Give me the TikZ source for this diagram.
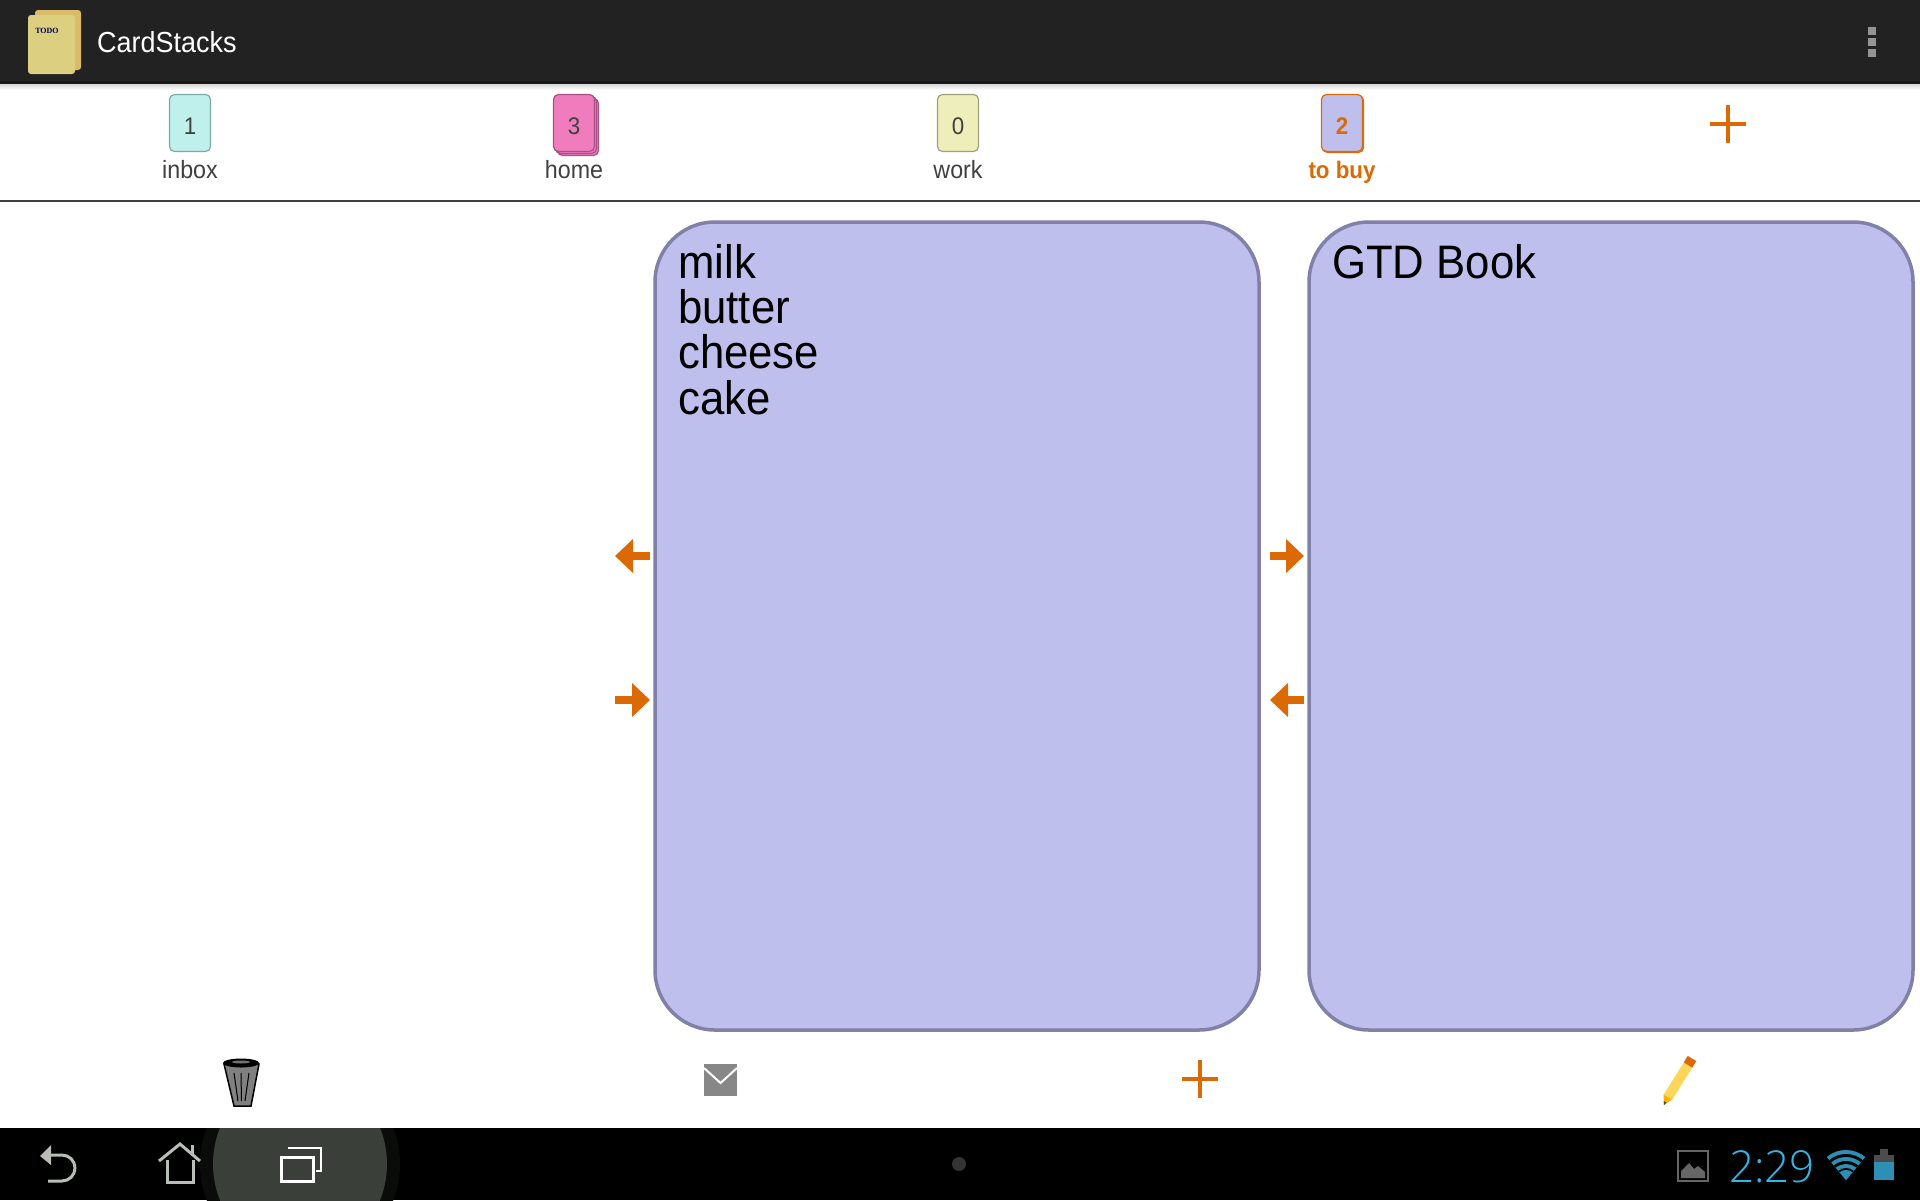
\documentclass[tikz,border=0pt]{standalone}
\usepackage{fontspec}
\setmainfont[FakeStretch=0.93]{Liberation Sans}
\newfontfamily\clockfont{Open Sans Light}
\newfontfamily\todofont{Liberation Serif}
\usetikzlibrary{positioning,arrows.meta}
\definecolor{barbg}{HTML}{222222}
\definecolor{accent}{HTML}{DB6A05}
\definecolor{notefill}{HTML}{BFBFEE}
\definecolor{noteline}{HTML}{8080A8}
\definecolor{navgrey}{HTML}{B8BDB8}
\definecolor{statusblue}{HTML}{33B5E5}
\definecolor{iconblue}{HTML}{2E8FB5}
\definecolor{tanfront}{HTML}{DCD080}
\definecolor{tanback}{HTML}{DABC68}
\definecolor{haloinner}{HTML}{3A3F3A}
\definecolor{haloouter}{HTML}{0A0C0A}
\definecolor{inboxfill}{HTML}{BFF0EC}
\definecolor{inboxline}{HTML}{7FA8A8}
\definecolor{homefill}{HTML}{F07CBE}
\definecolor{homeline}{HTML}{A85084}
\definecolor{workfill}{HTML}{EEEEBB}
\definecolor{workline}{HTML}{A0A080}
\definecolor{pencilbody}{HTML}{FFD65A}
\tikzset{
  tabcard/.style={draw, rounded corners=5pt, minimum width=41pt, minimum height=57pt,
    inner sep=0, line width=1.2pt, text=black!75, text height=22pt, text depth=0pt,
    font=\fontsize{24}{24}\selectfont},
  tablabel/.style={inner sep=0, text height=18pt, text depth=6pt, text=black!75,
    font=\fontsize{25}{25}\selectfont},
  notecard/.style={draw=noteline, fill=notefill, line width=3.5pt, rounded corners=60pt,
    minimum width=604pt, minimum height=808pt, inner sep=0},
  notetext/.style={inner sep=0, align=left, text=black, font=\fontsize{47}{45.3}\selectfont},
  movearrow/.style={draw=accent, line width=8pt, -{Triangle[length=18pt,width=33pt]}},
  plusline/.style={draw=accent, line width=4pt},
  navline/.style={draw=navgrey, line width=3pt},
  menudot/.style={fill=black!42, inner sep=0, minimum width=8pt, minimum height=8pt}
}
\begin{document}
\begin{tikzpicture}[x=1pt, y=-1pt]
  \useasboundingbox (0,0) rectangle (1920,1200);
  \fill[white] (0,0) rectangle (1920,1200);

  \fill[barbg] (0,0) rectangle (1920,81);
  \fill[black!90] (0,81) rectangle (1920,84);
  \shade[top color=black!15, bottom color=white] (0,84) rectangle (1920,90);
  \fill[black!75] (0,199.5) rectangle (1920,201.5);

  \node (appBack) [fill=tanback, rounded corners=3pt, minimum width=46pt, minimum height=60pt,
    inner sep=0] at (58,40) {};
  \node (appFront) [fill=tanfront, rounded corners=3pt, minimum width=47pt, minimum height=59pt,
    inner sep=0] at (51.5,44.5) {};
  \node (appTodo) [inner sep=0, text=black!70!blue, font=\todofont\fontsize{8}{8}\bfseries\selectfont]
    at (47,31) {TODO};
  \node (appTitle) [anchor=base west, inner sep=0, text=white, font=\fontsize{29}{29}\selectfont]
    at (97,52) {CardStacks};
  \node (menuA) [menudot] at (1872,31) {};
  \node (menuB) [menudot] at (1872,42) {};
  \node (menuC) [menudot] at (1872,53) {};

  \node (tabInbox) [tabcard, fill=inboxfill, draw=inboxline] at (190,123) {1};
  \node (lblInbox) [tablabel, below=8pt of tabInbox] {inbox};

  \node (tabHomeC) [tabcard, fill=homefill, draw=homeline] at (578,127) {};
  \node (tabHomeB) [tabcard, fill=homefill, draw=homeline] at (576,125) {};
  \node (tabHome) [tabcard, fill=homefill, draw=homeline] at (574,123) {3};
  \node (lblHome) [tablabel, below=8pt of tabHome] {home};

  \node (tabWork) [tabcard, fill=workfill, draw=workline] at (958,123) {0};
  \node (lblWork) [tablabel, below=8pt of tabWork] {work};

  \node (tabBuyB) [tabcard, fill=notefill, draw=accent] at (1343,124) {};
  \node (tabBuy) [tabcard, fill=notefill, draw=accent, text=accent] at (1342,123) {\bfseries 2};
  \node (lblBuy) [tablabel, below=8pt of tabBuy, text=accent,
    font=\fontsize{24}{24}\selectfont] {\bfseries to buy};

  \coordinate (plusTab) at (1728,124);
  \draw[plusline] ([xshift=-18pt]plusTab) -- ([xshift=18pt]plusTab);
  \draw[plusline] ([yshift=-19pt]plusTab) -- ([yshift=19pt]plusTab);

  \node (cardMilk) [notecard] at (957,626) {};
  \node (cardBook) [notecard] at (1611,626) {};
  \node (textMilk) [notetext, anchor=north west] at (678,244) {milk\\butter\\cheese\\cake};
  \node (textBook) [notetext, anchor=north west] at (1332,244) {GTD Book};

  \coordinate (milkLeftA) at (650,556);
  \coordinate (milkLeftB) at (615,556);
  \coordinate (milkRightA) at (615,700);
  \coordinate (milkRightB) at (650,700);
  \coordinate (bookRightA) at (1270,556);
  \coordinate (bookRightB) at (1304,556);
  \coordinate (bookLeftA) at (1304,700);
  \coordinate (bookLeftB) at (1270,700);
  \draw[movearrow] (milkLeftA) -- (milkLeftB);
  \draw[movearrow] (milkRightA) -- (milkRightB);
  \draw[movearrow] (bookRightA) -- (bookRightB);
  \draw[movearrow] (bookLeftA) -- (bookLeftB);

  % trash
  \draw[fill=black!50, line width=1.5pt] (224,1064) -- (259,1064) -- (251,1106) -- (234,1106) -- cycle;
  \foreach \a/\b in {234/238, 241/241.5, 249/245}
    \draw[line width=1pt] (\a,1073) -- (\b,1101);
  \fill[black] (241,1063) ellipse (18pt and 4.5pt);
  \fill[black!55] (241,1062) ellipse (9pt and 1.5pt);

  % mail
  \fill[black!47] (704,1064) rectangle (737,1096);
  \draw[white, line width=2pt] (704,1068) -- (720.5,1083) -- (737,1068);

  \coordinate (plusBar) at (1200,1079);
  \draw[plusline] ([xshift=-18pt]plusBar) -- ([xshift=18pt]plusBar);
  \draw[plusline] ([yshift=-19pt]plusBar) -- ([yshift=19pt]plusBar);

  % pencil
  \fill[orange!60!yellow] (1664,1105) -- (1663.5,1094) -- (1672,1099.5) -- cycle;
  \draw[line width=10pt, pencilbody] (1668,1097) -- (1688,1065);
  \draw[line width=10pt, accent] (1688,1065) -- (1692,1058.5);
  \fill[black!70] (1664,1105) -- (1663.7,1101) -- (1666.5,1102.5) -- cycle;

  \fill[black] (0,1128) rectangle (1920,1200);
  \begin{scope}
    \clip (0,1128) rectangle (1920,1200);
    \fill[haloouter] (300,1164) ellipse (100pt and 100pt);
    \fill[haloinner] (300,1164) ellipse (87pt and 92pt);
  \end{scope}

  % back, home, recent
  \fill[navgrey] (40,1156) -- (51,1145) -- (51,1165) -- cycle;
  \draw[navline] (50,1155) -- (62,1155) arc (90:-90:13pt) -- (48,1181);
  \draw[navline] (159,1161) -- (180,1144) -- (200,1161);
  \draw[navline] (192,1145) -- (192,1155);
  \draw[navline] (167,1160) -- (167,1182) -- (193,1182) -- (193,1160);
  \draw[white, line width=3pt] (281,1157) rectangle (313,1181);
  \draw[white, line width=2.5pt] (288,1148) -- (321,1148) -- (321,1171) -- (316,1171);

  \fill[black!80] (959,1164) circle (7pt);

  % status icons
  \draw[black!60, line width=2pt] (1678,1151) rectangle (1708,1181);
  \fill[black!60] (1681,1178) -- (1681,1171) -- (1689,1163) -- (1694,1169) -- (1698,1166) -- (1705,1172) -- (1705,1178) -- cycle;
  \node (clockText) [anchor=base west, inner sep=0, text=statusblue,
    font=\clockfont\fontsize{44}{44}\selectfont] at (1729,1182) {2:29};
  \foreach \r/\c in {30/iconblue, 26/black, 23/iconblue, 19/black, 16/iconblue, 12/black, 10/iconblue}
    \fill[\c] (1846,1180) -- ++(130:\r pt) arc (130:50:\r pt) -- cycle;
  \fill[black!70] (1880,1149) rectangle (1888,1156);
  \fill[black!70] (1874,1155) rectangle (1894,1162);
  \fill[iconblue] (1874,1162) rectangle (1894,1180);
\end{tikzpicture}
\end{document}
